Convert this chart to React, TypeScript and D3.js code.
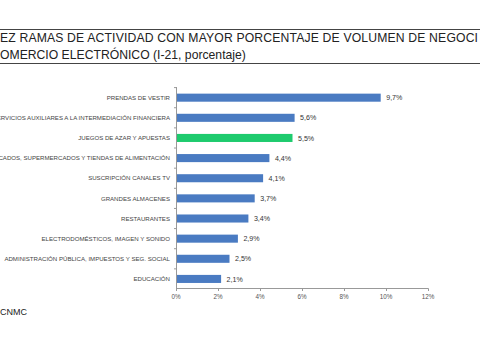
import React from "react";
import * as d3 from "d3";

const categories = [
  "PRENDAS DE VESTIR",
  "SERVICIOS AUXILIARES A LA INTERMEDIACIÓN FINANCIERA",
  "JUEGOS DE AZAR Y APUESTAS",
  "HIPERMERCADOS, SUPERMERCADOS Y TIENDAS DE ALIMENTACIÓN",
  "SUSCRIPCIÓN CANALES TV",
  "GRANDES ALMACENES",
  "RESTAURANTES",
  "ELECTRODOMÉSTICOS, IMAGEN Y SONIDO",
  "ADMINISTRACIÓN PÚBLICA, IMPUESTOS Y SEG. SOCIAL",
  "EDUCACIÓN",
];
const values = [9.7, 5.6, 5.5, 4.4, 4.1, 3.7, 3.4, 2.9, 2.5, 2.1];
const valueLabels = ["9,7%", "5,6%", "5,5%", "4,4%", "4,1%", "3,7%", "3,4%", "2,9%", "2,5%", "2,1%"];
const highlight = "JUEGOS DE AZAR Y APUESTAS";
const xTicks = [0, 2, 4, 6, 8, 10, 12];
const titleLines = [
  "EZ RAMAS DE ACTIVIDAD CON MAYOR PORCENTAJE DE VOLUMEN DE NEGOCI",
  "OMERCIO ELECTRÓNICO (I-21, porcentaje)",
];
const sourceText = "CNMC";

export default function App() {
  const W = 480, H = 360;
  const x = d3.scaleLinear().domain([0, 12]).range([176, 428]);
  const y = d3.scaleBand().domain(categories).range([87.6, 289]).paddingInner(0.6).paddingOuter(0.3);
  const axisY = 288.5;
  const font = "Arial, 'Liberation Sans', sans-serif";
  return (
    <svg width={W} height={H} style={{ position: "absolute", left: 0, top: 0, background: "#fff" }} fontFamily={font}>
      <line x1={0} x2={W} y1={29.5} y2={29.5} stroke="#444" strokeWidth={1} />
      <line x1={0} x2={W} y1={63.5} y2={63.5} stroke="#444" strokeWidth={1} />
      <text x={0} y={42} fontSize={12.2} fill="#222" textLength={478} lengthAdjust="spacing">{titleLines[0]}</text>
      <text x={0} y={59} fontSize={12.2} fill="#222">{titleLines[1]}</text>
      {/* y axis */}
      <line x1={176.5} x2={176.5} y1={87} y2={axisY} stroke="#999" />
      {categories.map((c, i) => {
        const yy = (y(c) as number) - (y.step() * y.paddingInner()) / 2;
        return <line key={"t" + i} x1={174} x2={176.5} y1={yy} y2={yy} stroke="#999" />;
      })}
      {/* x axis */}
      <line x1={176} x2={428.5} y1={axisY} y2={axisY} stroke="#999" />
      {xTicks.map((t) => (
        <g key={t}>
          <line x1={x(t) + 0.5} x2={x(t) + 0.5} y1={axisY} y2={axisY + 2.5} stroke="#999" />
          <text x={x(t)} y={298.5} fontSize={6.3} textAnchor="middle" fill="#555">{t}%</text>
        </g>
      ))}
      {categories.map((c, i) => {
        const by = y(c) as number;
        const bh = y.bandwidth();
        return (
          <g key={c}>
            <rect x={x(0) + 1} y={by} width={x(values[i]) - x(0)} height={bh} fill={c === highlight ? "#1ecb6e" : "#4a7bc2"} />
            <text x={170} y={by + bh / 2 + 2.2} fontSize={6.1} textAnchor="end" fill="#444">{c}</text>
            <text x={x(values[i]) + 6.5} y={by + bh / 2 + 2.6} fontSize={7.1} fill="#333">{valueLabels[i]}</text>
          </g>
        );
      })}
      <text x={0} y={315} fontSize={9} fill="#222">{sourceText}</text>
    </svg>
  );
}
